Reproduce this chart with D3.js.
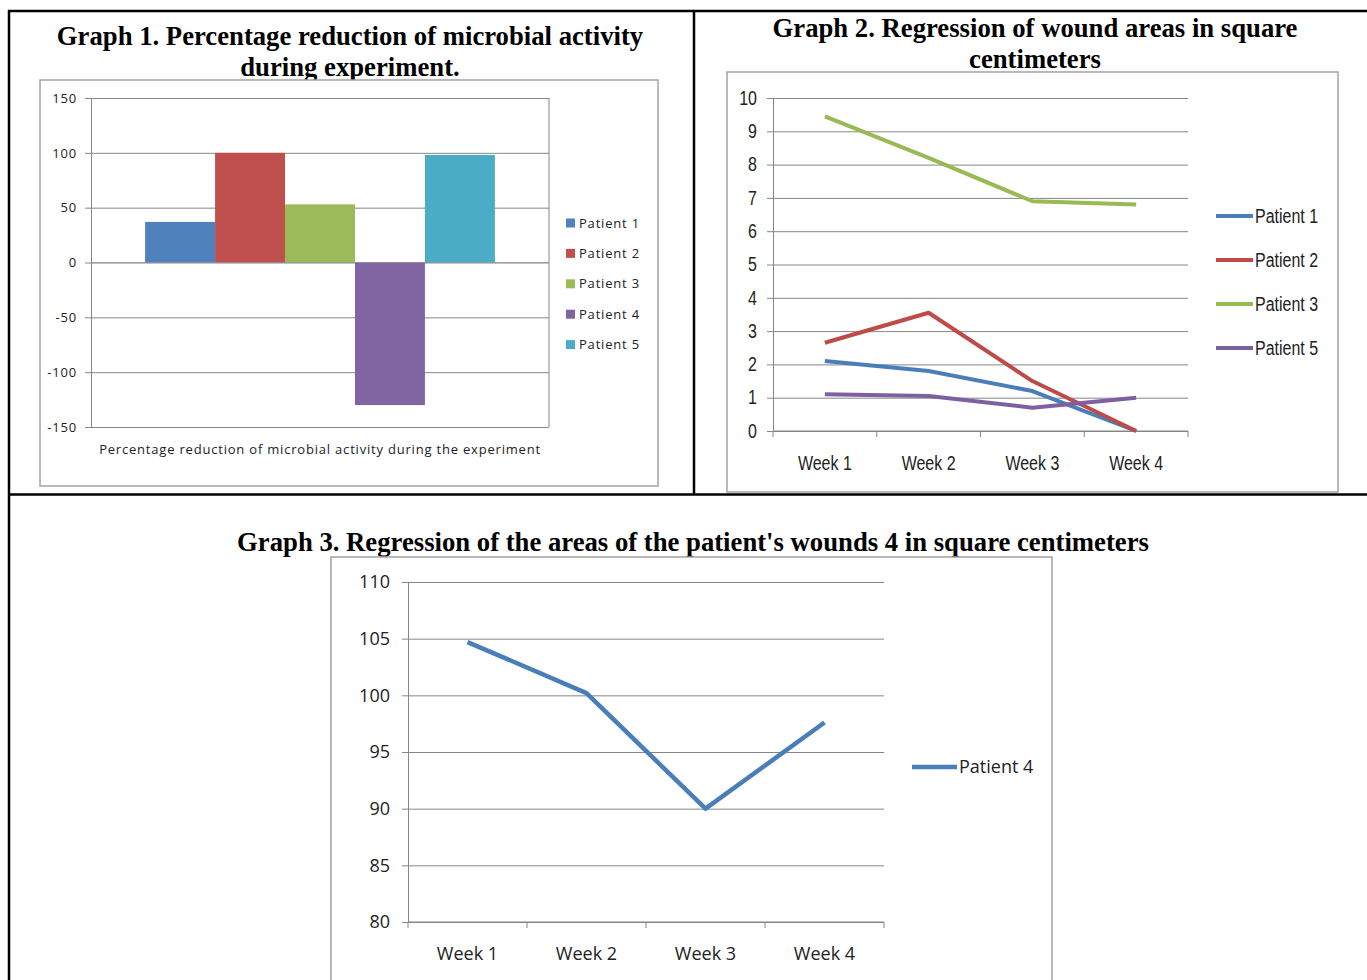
<!DOCTYPE html>
<html>
<head>
<meta charset="utf-8">
<script src="https://cdn.jsdelivr.net/npm/d3@7"></script>
<style>
  html, body { margin: 0; padding: 0; background: #fff; }
  svg { display: block; }
  .g1 text { font-family: "Open Sans", sans-serif; font-size: 13px; fill: #222; letter-spacing: 0.8px; }
  .g2 text { font-family: "Liberation Sans", Arial, sans-serif; font-size: 19.5px; fill: #222;
             transform-box: fill-box; transform: scaleX(0.82); transform-origin: center; }
  .g2 .yaxis text { transform-origin: right center; }
  .g2 .legend text { transform-origin: left center; }
  .g3 text { font-family: "Open Sans", sans-serif; font-size: 18px; fill: #222; }
  svg text.title { font-family: "Liberation Serif", "Times New Roman", serif; font-weight: bold; font-size: 26.7px;
                   fill: #000; letter-spacing: 0; transform: none; }
</style>
</head>
<body>
<svg id="chart" width="1367" height="980"></svg>
<script>
// Graph 1: percentage reduction of microbial activity
const g1Category = "Percentage reduction of microbial activity during the experiment";
const g1Patients = ["Patient 1", "Patient 2", "Patient 3", "Patient 4", "Patient 5"];
const g1Values = [37, 100, 53, -130, 98];
const g1Ticks = [150, 100, 50, 0, -50, -100, -150];

// Graph 2: wound areas (cm²) per week
const weeks = ["Week 1", "Week 2", "Week 3", "Week 4"];
const g2Patients = ["Patient 1", "Patient 2", "Patient 3", "Patient 5"];
const g2Patient1 = [2.1, 1.8, 1.2, 0];
const g2Patient2 = [2.65, 3.55, 1.5, 0];
const g2Patient3 = [9.45, 8.2, 6.9, 6.8];
const g2Patient5 = [1.1, 1.05, 0.7, 1.0];
const g2Ticks = [0, 1, 2, 3, 4, 5, 6, 7, 8, 9, 10];

// Graph 3: wound area of patient 4
const g3Patient = "Patient 4";
const g3Values = [104.7, 100.2, 90, 97.6];
const g3Ticks = [80, 85, 90, 95, 100, 105, 110];

const colors = {
  "Patient 1": "#4F81BD",
  "Patient 2": "#C0504D",
  "Patient 3": "#9BBB59",
  "Patient 4": "#8064A2",
  "Patient 5": "#4BACC6"
};
const lineColors = {
  "Patient 1": "#4A7EBB",
  "Patient 2": "#BE4B48",
  "Patient 3": "#98B954",
  "Patient 5": "#7D60A0",
  "Patient 4": "#4A7EBB"
};
const gridColor = "#868686";
const frameColor = "#a2a2a2";

const svg = d3.select("#chart");

// ---------- page table borders ----------
const borders = svg.append("g").attr("stroke", "#000").attr("stroke-width", 2.5);
borders.append("line").attr("x1", 8).attr("x2", 1367).attr("y1", 11).attr("y2", 11);
borders.append("line").attr("x1", 9).attr("x2", 9).attr("y1", 10).attr("y2", 980);
borders.append("line").attr("x1", 694).attr("x2", 694).attr("y1", 10).attr("y2", 495);
borders.append("line").attr("x1", 8).attr("x2", 1367).attr("y1", 494.5).attr("y2", 494.5);

function frame(g, x, y, w, h) {
  g.append("rect")
    .attr("x", x).attr("y", y).attr("width", w).attr("height", h)
    .attr("fill", "#fff").attr("stroke", frameColor).attr("stroke-width", 1.5);
}

function yAxis(g, y, ticks, left, right, padding) {
  // gridlines
  g.append("g")
    .attr("transform", `translate(${left},0)`)
    .call(d3.axisLeft(y).tickValues(ticks).tickSize(-(right - left)).tickFormat(""))
    .call(s => s.select(".domain").remove())
    .call(s => s.selectAll("line").attr("stroke", gridColor));
  // axis with tick labels
  g.append("g")
    .attr("class", "yaxis")
    .attr("transform", `translate(${left},0)`)
    .call(d3.axisLeft(y).tickValues(ticks).tickSize(6).tickPadding(padding).tickFormat(d => String(d)))
    .call(s => s.select(".domain").attr("stroke", gridColor))
    .call(s => s.selectAll("line").attr("stroke", gridColor))
    .call(s => s.selectAll("text").attr("fill", "#222").attr("font-family", null).attr("font-size", null));
}

// ---------- Graph 1 ----------
{
  const g = svg.append("g").attr("class", "g1");
  g.append("text").attr("class", "title").attr("x", 350).attr("y", 45).attr("text-anchor", "middle")
    .text("Graph 1. Percentage reduction of microbial activity");
  g.append("text").attr("class", "title").attr("x", 350).attr("y", 76).attr("text-anchor", "middle")
    .text("during experiment.");
  frame(g, 40, 80, 618, 406);

  const left = 91, right = 549, top = 98, bottom = 427;
  const y = d3.scaleLinear().domain([-150, 150]).range([bottom, top]);
  const x0 = d3.scaleBand().domain([g1Category]).range([left, right]).paddingInner(0.134).paddingOuter(0.134);
  const x1 = d3.scaleBand().domain(g1Patients).range([0, x0.bandwidth()]);

  yAxis(g, y, g1Ticks, left, right, 8);
  g.append("line").attr("x1", right).attr("x2", right).attr("y1", top).attr("y2", bottom).attr("stroke", gridColor);

  g.append("g").selectAll("rect")
    .data(g1Patients.map((p, i) => ({ p, v: g1Values[i] })))
    .join("rect")
    .attr("x", d => x0(g1Category) + x1(d.p))
    .attr("width", x1.bandwidth())
    .attr("y", d => y(Math.max(0, d.v)))
    .attr("height", d => Math.abs(y(d.v) - y(0)))
    .attr("fill", d => colors[d.p]);

  // zero line drawn over bars
  g.append("line").attr("x1", left).attr("x2", right).attr("y1", y(0)).attr("y2", y(0))
    .attr("stroke", gridColor).attr("stroke-opacity", 0.6);

  g.append("text").attr("x", x0(g1Category) + x0.bandwidth() / 2).attr("y", 454)
    .attr("text-anchor", "middle").text(g1Category);

  const leg = g.append("g").selectAll("g").data(g1Patients).join("g")
    .attr("transform", (d, i) => `translate(566,${223 + i * 30.4})`);
  leg.append("rect").attr("x", 0).attr("y", -4.5).attr("width", 9).attr("height", 9).attr("fill", d => colors[d]);
  leg.append("text").attr("x", 13).attr("dy", "0.35em").text(d => d);
}

function lineChart(g, cfg) {
  const { left, right, top, bottom, domain, ticks, series, pad, labelY, legendX, legendY, legendStep, legendLen, strokeW } = cfg;
  const y = d3.scaleLinear().domain(domain).range([bottom, top]);
  const x = d3.scaleBand().domain(weeks).range([left, right]);
  yAxis(g, y, ticks, left, right, pad);
  // category axis
  g.append("line").attr("x1", left).attr("x2", right).attr("y1", bottom).attr("y2", bottom).attr("stroke", gridColor);
  const bounds = weeks.map(w => x(w)).concat([x(weeks[weeks.length - 1]) + x.bandwidth()]);
  g.append("g").selectAll("line").data(bounds).join("line")
    .attr("x1", d => d).attr("x2", d => d).attr("y1", bottom).attr("y2", bottom + 6).attr("stroke", gridColor);
  g.append("g").selectAll("text").data(weeks).join("text")
    .attr("x", d => x(d) + x.bandwidth() / 2).attr("y", labelY).attr("text-anchor", "middle").text(d => d);

  const line = d3.line().x((d, i) => x(weeks[i]) + x.bandwidth() / 2).y(d => y(d));
  g.append("g").selectAll("path").data(series).join("path")
    .attr("d", d => line(d.values))
    .attr("fill", "none").attr("stroke", d => lineColors[d.name])
    .attr("stroke-width", strokeW).attr("stroke-linejoin", "round");

  const leg = g.append("g").attr("class", "legend").selectAll("g").data(series).join("g")
    .attr("transform", (d, i) => `translate(${legendX},${legendY + i * legendStep})`);
  leg.append("line").attr("x1", 0).attr("x2", legendLen).attr("stroke", d => lineColors[d.name]).attr("stroke-width", strokeW);
  leg.append("text").attr("x", legendLen + 2).attr("dy", "0.35em").text(d => d.name);
}

// ---------- Graph 2 ----------
{
  const g = svg.append("g").attr("class", "g2");
  g.append("text").attr("class", "title").attr("x", 1035).attr("y", 37).attr("text-anchor", "middle")
    .text("Graph 2. Regression of wound areas in square");
  g.append("text").attr("class", "title").attr("x", 1035).attr("y", 68).attr("text-anchor", "middle")
    .text("centimeters");
  frame(g, 727, 72, 611, 420);
  lineChart(g, {
    left: 773, right: 1188, top: 98, bottom: 431,
    domain: [0, 10], ticks: g2Ticks, pad: 10, labelY: 470,
    series: [
      { name: g2Patients[0], values: g2Patient1 },
      { name: g2Patients[1], values: g2Patient2 },
      { name: g2Patients[2], values: g2Patient3 },
      { name: g2Patients[3], values: g2Patient5 }
    ],
    legendX: 1216, legendY: 216, legendStep: 44, legendLen: 37, strokeW: 4
  });
}

// ---------- Graph 3 ----------
{
  const g = svg.append("g").attr("class", "g3");
  g.append("text").attr("class", "title").attr("x", 693).attr("y", 551).attr("text-anchor", "middle")
    .text("Graph 3. Regression of the areas of the patient's wounds 4 in square centimeters");
  frame(g, 331, 557, 721, 440);
  lineChart(g, {
    left: 408, right: 884, top: 582, bottom: 922,
    domain: [80, 110], ticks: g3Ticks, pad: 12, labelY: 960,
    series: [{ name: g3Patient, values: g3Values }],
    legendX: 912, legendY: 767, legendStep: 0, legendLen: 45, strokeW: 4.5
  });
}
</script>
</body>
</html>
